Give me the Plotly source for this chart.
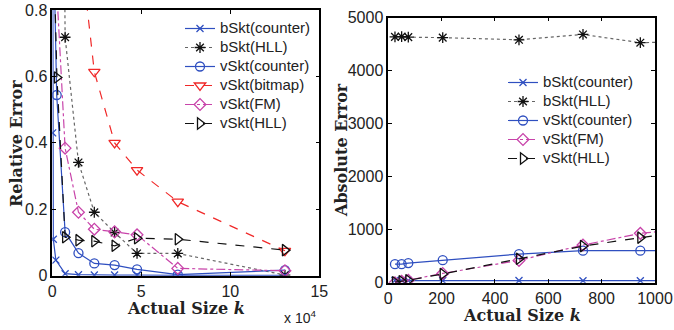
import plotly.graph_objects as go

# ---------------- data: left panel (relative error vs actual size k) ----------------
L_bc_x = [100, 200, 560, 2000, 7200, 14700, 23600, 35000, 47600, 70500, 130700]
L_bc_y = [1.6, 0.43, 0.11, 0.047, 0.006, 0.003, 0.002, 0.002, 0.002, 0.001, 0.001]

L_bh_x = [2600, 7200, 14700, 23600, 35000, 47600, 70500, 130700]
L_bh_y = [4.0, 0.718, 0.341, 0.191, 0.13, 0.067, 0.067, 0.002]

L_vc_x = [945, 2470, 7200, 14700, 23600, 35000, 47600, 70500, 130700]
L_vc_y = [0.95, 0.544, 0.131, 0.068, 0.037, 0.032, 0.019, 0.003, 0.017]

L_vb_x = [14700, 23600, 35000, 47600, 70500, 130700]
L_vb_y = [1.04, 0.614, 0.400, 0.318, 0.223, 0.075]

L_vf_x = [2600, 7200, 14700, 23600, 35000, 47600, 70500, 130700]
L_vf_y = [0.85, 0.384, 0.191, 0.140, 0.132, 0.123, 0.022, 0.015]

L_vh_x = [945, 2600, 7200, 14700, 23600, 35000, 47600, 70500, 130700]
L_vh_y = [0.95, 0.597, 0.116, 0.107, 0.104, 0.090, 0.113, 0.110, 0.077]

# ---------------- data: right panel (absolute error vs actual size k) ----------------
R_x = [25, 50, 75, 204, 490, 730, 945, 1150]
R_bc = [40, 40, 40, 40, 40, 38, 38, 38]
R_bh = [4635, 4640, 4630, 4620, 4580, 4680, 4525, 4550]
R_vc = [350, 350, 370, 425, 540, 603, 603, 603]
R_vf = [0, 25, 45, 175, 420, 710, 930, 1030]
R_vh = [10, 25, 45, 165, 450, 690, 850, 985]

L_xticks = [0, 50000, 100000, 150000]
L_xticktext = ["0", "5", "10", "15"]
L_yticks = [0, 0.2, 0.4, 0.6, 0.8]
L_yticktext = ["0", "0.2", "0.4", "0.6", "0.8"]
R_xticks = [0, 200, 400, 600, 800, 1000]
R_yticks = [0, 1000, 2000, 3000, 4000, 5000]

BLUE = "#2f4fc0"
RED = "#f02828"
MAG = "#c844aa"
BLK = "#111111"
GRAY = "#666666"

styles = {
    "bSkt(counter)": dict(color=BLUE, lcolor=BLUE, dash="solid", symbol="x-thin-open", size=7),
    "bSkt(HLL)": dict(color=BLK, lcolor=GRAY, dash="dot", symbol="asterisk-open", size=9),
    "vSkt(counter)": dict(color=BLUE, lcolor=BLUE, dash="solid", symbol="circle-open", size=9),
    "vSkt(bitmap)": dict(color=RED, lcolor=RED, dash="dash", symbol="triangle-down-open", size=10),
    "vSkt(FM)": dict(color=MAG, lcolor=MAG, dash="dashdot", symbol="diamond-open", size=9),
    "vSkt(HLL)": dict(color=BLK, lcolor=BLK, dash="dash", symbol="triangle-right-open", size=10),
}


def tr(name, x, y, xa, ya, legend):
    s = styles[name]
    return go.Scatter(
        x=x, y=y, name='<span style="font-size:15px">%s</span>' % name,
        mode="lines+markers", xaxis=xa, yaxis=ya, legend=legend,
        line=dict(color=s["lcolor"], width=1.2, dash=s["dash"]),
        marker=dict(symbol=s["symbol"], size=s["size"], color=s["color"],
                    line=dict(color=s["color"], width=1.3)),
        cliponaxis=True,
    )


fig = go.Figure()
fig.add_trace(tr("bSkt(counter)", L_bc_x, L_bc_y, "x", "y", "legend"))
fig.add_trace(tr("bSkt(HLL)", L_bh_x, L_bh_y, "x", "y", "legend"))
fig.add_trace(tr("vSkt(counter)", L_vc_x, L_vc_y, "x", "y", "legend"))
fig.add_trace(tr("vSkt(bitmap)", L_vb_x, L_vb_y, "x", "y", "legend"))
fig.add_trace(tr("vSkt(FM)", L_vf_x, L_vf_y, "x", "y", "legend"))
fig.add_trace(tr("vSkt(HLL)", L_vh_x, L_vh_y, "x", "y", "legend"))

fig.add_trace(tr("bSkt(counter)", R_x, R_bc, "x2", "y2", "legend2"))
fig.add_trace(tr("bSkt(HLL)", R_x, R_bh, "x2", "y2", "legend2"))
fig.add_trace(tr("vSkt(counter)", R_x, R_vc, "x2", "y2", "legend2"))
fig.add_trace(tr("vSkt(FM)", R_x, R_vf, "x2", "y2", "legend2"))
fig.add_trace(tr("vSkt(HLL)", R_x, R_vh, "x2", "y2", "legend2"))

W, H = 674, 330
TICKFONT = dict(family="Liberation Sans", size=16, color="#222222")
axis_common = dict(
    showline=True, linecolor="black", linewidth=1.6, mirror="ticks",
    ticks="inside", ticklen=4, tickwidth=1, tickcolor="black",
    showgrid=False, zeroline=False, tickfont=TICKFONT, automargin=False,
    ticklabeloverflow="allow",
)

fig.update_layout(
    width=W, height=H,
    margin=dict(l=0, r=0, t=0, b=0),
    paper_bgcolor="white", plot_bgcolor="white",
    xaxis=dict(domain=[52.3 / W, 319.3 / W], range=[0, 150000],
               tickvals=L_xticks, ticktext=L_xticktext, anchor="y", **axis_common),
    yaxis=dict(domain=[1 - 275.7 / H, 1 - 10 / H], range=[0, 0.8],
               tickvals=L_yticks, ticktext=L_yticktext, anchor="x", **axis_common),
    xaxis2=dict(domain=[388.3 / W, 655 / W], range=[0, 1000],
                tickvals=R_xticks, anchor="y2", **axis_common),
    yaxis2=dict(domain=[1 - 282.7 / H, 1 - 17.5 / H], range=[0, 5000],
                tickvals=R_yticks, tickformat="d", anchor="x2", **axis_common),
    legend=dict(x=180 / W, y=1 - 14 / H, xanchor="left", yanchor="top",
                bgcolor="rgba(0,0,0,0)", borderwidth=0, tracegroupgap=0,
                font=dict(family="Liberation Sans", size=11.5, color="#222222")),
    legend2=dict(x=503 / W, y=1 - 68 / H, xanchor="left", yanchor="top",
                 bgcolor="rgba(0,0,0,0)", borderwidth=0, tracegroupgap=0,
                 font=dict(family="Liberation Sans", size=12.3, color="#222222")),
)

TITLEFONT = dict(family="DejaVu Serif", size=16, color="#222222")
ann = [
    dict(text="<b>Actual Size <i>k</i></b>", x=185.8 / W, y=1 - 308.5 / H),
    dict(text="<b>Actual Size <i>k</i></b>", x=521.7 / W, y=1 - 315.5 / H),
    dict(text="<b>Relative Error</b>", x=17 / W, y=1 - 144 / H, textangle=-90),
    dict(text="<b>Absolute Error</b>", x=341 / W, y=1 - 150 / H, textangle=-90),
]
for a in ann:
    fig.add_annotation(xref="paper", yref="paper", showarrow=False,
                       xanchor="center", yanchor="middle", font=TITLEFONT, **a)
fig.add_annotation(xref="paper", yref="paper", showarrow=False,
                   text="x 10<sup>4</sup>", x=318 / W, y=1 - 317 / H,
                   xanchor="right", yanchor="middle",
                   font=dict(family="Liberation Sans", size=14, color="#222222"))

fig.write_html("out.html", config={"displayModeBar": False},
               post_script="document.body.style.margin='0';")
